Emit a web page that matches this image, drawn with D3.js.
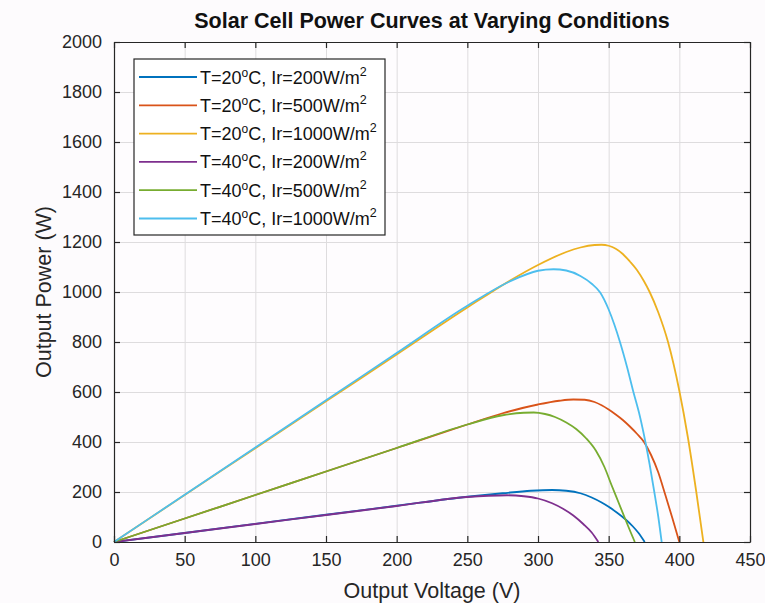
<!DOCTYPE html>
<html>
<head>
<meta charset="utf-8">
<script src="https://cdn.jsdelivr.net/npm/d3@7"></script>
<style>
  body { margin: 0; background: #fdfbfd; }
  svg { display: block; font-family: "Liberation Sans", Arial, sans-serif; }
</style>
</head>
<body>
<script>
// tick values
var xTicks = [0, 50, 100, 150, 200, 250, 300, 350, 400, 450];
var yTicks = [0, 200, 400, 600, 800, 1000, 1200, 1400, 1600, 1800, 2000];

// curves: voltage (V) and power (W)
var v20_200  = [0, 50, 100, 150, 200, 250, 275, 295, 310, 320, 330, 338, 345, 350, 356, 362, 367, 371, 375.5];
var p20_200  = [0, 36, 72.5, 109, 145, 181, 195, 205, 208, 205, 195, 178, 158, 141, 117, 90, 63, 37, 0];
var v20_500  = [0, 50, 100, 150, 200, 250, 275, 300, 315, 325, 333, 340, 345, 350, 355, 360, 365, 370, 375, 380, 385, 390, 395, 400];
var p20_500  = [0, 94, 188, 282, 376, 470, 515, 550, 565, 570, 569, 560, 547, 530, 510, 488, 462, 433, 400, 348, 280, 190, 97, 0];
var v20_1000 = [0, 50, 100, 150, 200, 250, 280, 300, 320, 330, 340, 345, 350, 355, 360, 365, 370, 375, 379, 385, 392, 400, 406, 412, 417];
var p20_1000 = [0, 188, 375, 563, 750, 938, 1045, 1108, 1160, 1178, 1188, 1189, 1185, 1173, 1152, 1122, 1088, 1043, 1000, 920, 800, 605, 420, 200, 0];
var v40_200  = [0, 50, 100, 150, 200, 250, 265, 278, 290, 300, 310, 318, 325, 332, 338, 342.7];
var p40_200  = [0, 36, 72, 108, 144, 180, 185, 187, 183, 174, 155, 132, 106, 72, 38, 0];
var v40_500  = [0, 50, 100, 150, 200, 250, 275, 290, 297, 305, 312, 320, 327, 334, 341, 347, 352, 357, 362, 365.5, 368.5];
var p40_500  = [0, 94, 188, 282, 376, 470, 507, 517, 518, 512, 500, 478, 452, 415, 365, 300, 228, 158, 88, 40, 0];
var v40_1000 = [0, 50, 100, 150, 200, 250, 280, 300, 311, 320, 330, 338, 344, 350, 354, 358, 363, 367.5, 372, 376, 379, 382, 385, 387.5];
var p40_1000 = [0, 189, 378, 567, 756, 945, 1042, 1085, 1091, 1086, 1064, 1033, 998, 930, 870, 800, 700, 600, 505, 400, 310, 210, 105, 0];

var temps = ["20", "20", "20", "40", "40", "40"];
var irrad = ["200", "500", "1000", "200", "500", "1000"];
var volts = [v20_200, v20_500, v20_1000, v40_200, v40_500, v40_1000];
var powers = [p20_200, p20_500, p20_1000, p40_200, p40_500, p40_1000];
var colors = ["#0072bd", "#d95319", "#edb120", "#7e2f8e", "#77ac30", "#4dbeee"];

// plot box
var margin = {top: 42, right: 15, bottom: 61, left: 114},
    width = 765 - margin.left - margin.right,
    height = 603 - margin.top - margin.bottom;

var svg = d3.select("body").append("svg")
    .attr("width", 765)
    .attr("height", 603);

var g = svg.append("g")
    .attr("transform", "translate(" + margin.left + "," + margin.top + ")");

var x = d3.scaleLinear().domain([0, 450]).range([0, width]);
var y = d3.scaleLinear().domain([0, 2000]).range([height, 0]);

g.append("rect")
    .attr("width", width)
    .attr("height", height)
    .attr("fill", "#fefcfe");

// grid
g.append("g")
    .attr("transform", "translate(0," + height + ")")
    .call(d3.axisBottom(x).tickValues(xTicks).tickSize(-height).tickFormat(""))
    .call(function(s) {
      s.select(".domain").remove();
      s.selectAll("line").attr("stroke", "#dedcde").attr("stroke-width", 1);
    });
g.append("g")
    .call(d3.axisLeft(y).tickValues(yTicks).tickSize(-width).tickFormat(""))
    .call(function(s) {
      s.select(".domain").remove();
      s.selectAll("line").attr("stroke", "#dedcde").attr("stroke-width", 1);
    });

// curves
var line = d3.line()
    .x(function(d) { return x(d[0]); })
    .y(function(d) { return y(d[1]); })
    .curve(d3.curveMonotoneX);

volts.forEach(function(vs, i) {
  var pts = vs.map(function(v, j) { return [v, powers[i][j]]; });
  g.append("path")
      .datum(pts)
      .attr("fill", "none")
      .attr("stroke", colors[i])
      .attr("stroke-width", 1.8)
      .attr("d", line);
});

// axes with inward ticks on all four sides
function styleAxis(s) {
  s.select(".domain").attr("stroke", "#262626").attr("stroke-width", 1.2);
  s.selectAll(".tick line").attr("stroke", "#262626").attr("stroke-width", 1.2);
  s.selectAll("text").attr("fill", "#262626").attr("font-size", 18)
      .attr("font-family", "'Liberation Sans', Arial, sans-serif");
}

g.append("g")
    .attr("transform", "translate(0," + height + ")")
    .call(d3.axisBottom(x).tickValues(xTicks).tickFormat(d3.format("d"))
      .tickSizeInner(-6).tickSizeOuter(0).tickPadding(11))
    .call(styleAxis);
g.append("g")
    .call(d3.axisLeft(y).tickValues(yTicks).tickFormat(d3.format("d"))
      .tickSizeInner(-6).tickSizeOuter(0).tickPadding(12))
    .call(styleAxis);
g.append("g")
    .call(d3.axisTop(x).tickValues(xTicks).tickSizeInner(-6).tickSizeOuter(0).tickFormat(""))
    .call(styleAxis);
g.append("g")
    .attr("transform", "translate(" + width + ",0)")
    .call(d3.axisRight(y).tickValues(yTicks).tickSizeInner(-6).tickSizeOuter(0).tickFormat(""))
    .call(styleAxis);

// title and axis labels
svg.append("text")
    .attr("x", margin.left + width / 2)
    .attr("y", 28)
    .attr("text-anchor", "middle")
    .attr("font-weight", "bold")
    .attr("font-size", 21.5)
    .attr("fill", "#111")
    .text("Solar Cell Power Curves at Varying Conditions");

svg.append("text")
    .attr("x", margin.left + width / 2)
    .attr("y", 598)
    .attr("text-anchor", "middle")
    .attr("font-size", 21.5)
    .attr("fill", "#262626")
    .text("Output Voltage (V)");

svg.append("text")
    .attr("transform", "translate(51," + (margin.top + height / 2) + ") rotate(-90)")
    .attr("text-anchor", "middle")
    .attr("font-size", 21.5)
    .attr("fill", "#262626")
    .text("Output Power (W)");

// legend
var legend = svg.append("g").attr("transform", "translate(134,59)");
legend.append("rect")
    .attr("width", 251)
    .attr("height", 176)
    .attr("fill", "#ffffff")
    .attr("stroke", "#262626")
    .attr("stroke-width", 1.2);

temps.forEach(function(t, i) {
  var row = legend.append("g").attr("transform", "translate(0," + (18 + i * 28.3) + ")");
  row.append("line")
      .attr("x1", 5).attr("x2", 63)
      .attr("stroke", colors[i])
      .attr("stroke-width", 1.8);
  var txt = row.append("text")
      .attr("x", 66)
      .attr("y", 6.5)
      .attr("font-size", 18)
      .attr("fill", "#111");
  txt.append("tspan").text("T=" + t);
  txt.append("tspan").attr("dy", -7).attr("font-size", 12).text("o");
  txt.append("tspan").attr("dy", 7).text("C, Ir=" + irrad[i] + "W/m");
  txt.append("tspan").attr("dy", -8).attr("font-size", 12.5).text("2");
});
</script>
</body>
</html>
